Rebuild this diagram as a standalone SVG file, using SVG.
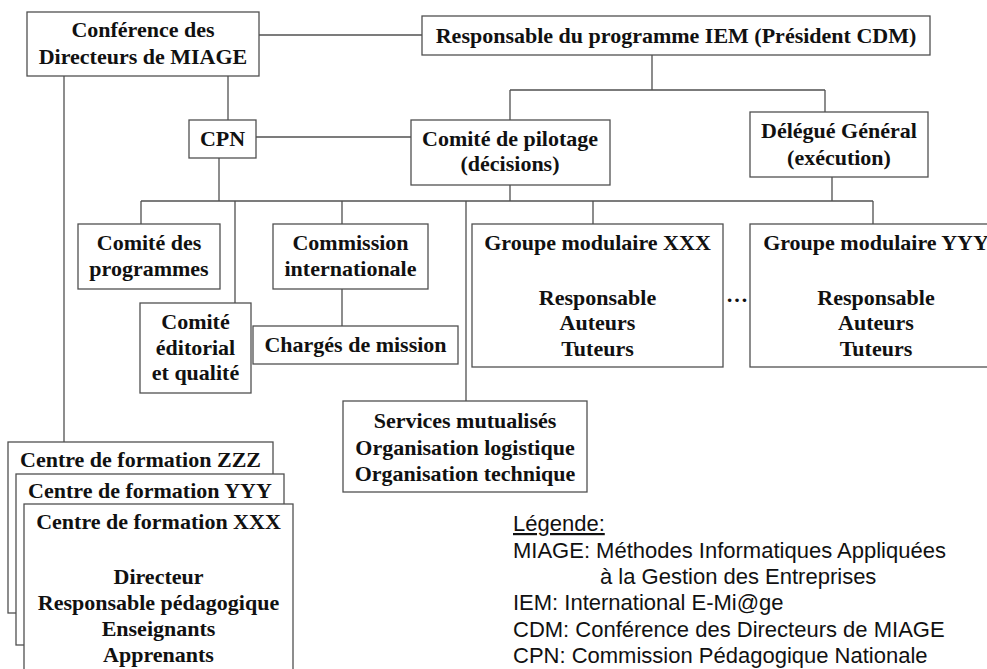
<svg xmlns="http://www.w3.org/2000/svg" width="987" height="669" viewBox="0 0 987 669">
<style>
.box{fill:#fff;stroke:#505050;stroke-width:1.3}
.t{font-family:"Liberation Serif","Times New Roman",serif;font-weight:bold;font-size:22px;fill:#111;text-anchor:middle}
.lg{font-family:"Liberation Sans",Arial,sans-serif;font-size:22px;fill:#111}
.c{fill:none;stroke:#505050;stroke-width:1.3}
</style>
<rect width="987" height="669" fill="#fff"/>
<g id="connectors" class="c">
<path d="M259,35H422"/>
<path d="M652,54V90M510,90H825M510,90V120M825,90V112"/>
<path d="M228,76V120"/>
<path d="M256,137H411"/>
<path d="M64,76V442"/>
<path d="M219,158V201"/>
<path d="M510,185V201M832,177V201"/>
<path d="M141,201H873"/>
<path d="M141,201V224M235,201V303M342,201V224M466,201V401M593,201V224M873,201V224"/>
<path d="M342,289V326"/>
</g>
<g id="cdm">
<rect class="box" x="27" y="12" width="232" height="64"/>
<text class="t" x="143" y="37">Conférence des</text>
<text class="t" x="143" y="64">Directeurs de MIAGE</text>
</g>
<g id="responsable">
<rect class="box" x="422" y="16" width="508" height="39"/>
<text class="t" x="676" y="43">Responsable du programme IEM (Président CDM)</text>
</g>
<g id="cpn">
<rect class="box" x="189" y="120" width="67" height="38"/>
<text class="t" x="222.5" y="146">CPN</text>
</g>
<g id="comite-pilotage">
<rect class="box" x="411" y="120" width="199" height="65"/>
<text class="t" x="510" y="146">Comité de pilotage</text>
<text class="t" x="510" y="171">(décisions)</text>
</g>
<g id="delegue">
<rect class="box" x="750" y="112" width="178" height="65"/>
<text class="t" x="839" y="138">Délégué Général</text>
<text class="t" x="839" y="165">(exécution)</text>
</g>
<g id="comite-programmes">
<rect class="box" x="78" y="224" width="142" height="65"/>
<text class="t" x="149" y="250">Comité des</text>
<text class="t" x="149" y="276">programmes</text>
</g>
<g id="commission">
<rect class="box" x="273" y="224" width="155" height="65"/>
<text class="t" x="350.5" y="250">Commission</text>
<text class="t" x="350.5" y="276">internationale</text>
</g>
<g id="comite-editorial">
<rect class="box" x="140" y="303" width="111" height="90"/>
<text class="t" x="195.5" y="329">Comité</text>
<text class="t" x="195.5" y="355">éditorial</text>
<text class="t" x="195.5" y="380">et qualité</text>
</g>
<g id="charges">
<rect class="box" x="253" y="326" width="205" height="38"/>
<text class="t" x="355.5" y="352">Chargés de mission</text>
</g>
<g id="services">
<rect class="box" x="343" y="401" width="244" height="91"/>
<text class="t" x="465" y="428">Services mutualisés</text>
<text class="t" x="465" y="455">Organisation logistique</text>
<text class="t" x="465" y="481">Organisation technique</text>
</g>
<g id="groupe-xxx">
<rect class="box" x="472" y="224" width="251" height="143"/>
<text class="t" x="597.5" y="250">Groupe modulaire XXX</text>
<text class="t" x="597.5" y="305">Responsable</text>
<text class="t" x="597.5" y="330">Auteurs</text>
<text class="t" x="597.5" y="356">Tuteurs</text>
</g>
<text class="t" x="737" y="302">…</text>
<g id="groupe-yyy">
<rect class="box" x="750" y="224" width="252" height="143"/>
<text class="t" x="876" y="250">Groupe modulaire YYY</text>
<text class="t" x="876" y="305">Responsable</text>
<text class="t" x="876" y="330">Auteurs</text>
<text class="t" x="876" y="356">Tuteurs</text>
</g>
<g id="centre-zzz">
<rect class="box" x="8" y="442" width="265" height="171"/>
<text class="t" x="140.5" y="467">Centre de formation ZZZ</text>
</g>
<g id="centre-yyy">
<rect class="box" x="16" y="474" width="268" height="171"/>
<text class="t" x="150" y="498">Centre de formation YYY</text>
</g>
<g id="centre-xxx">
<rect class="box" x="24" y="504" width="269" height="180"/>
<text class="t" x="158.5" y="529">Centre de formation XXX</text>
<text class="t" x="158.5" y="584">Directeur</text>
<text class="t" x="158.5" y="610">Responsable pédagogique</text>
<text class="t" x="158.5" y="636">Enseignants</text>
<text class="t" x="158.5" y="662">Apprenants</text>
</g>
<g id="legende">
<text class="lg" x="513" y="531" text-decoration="underline">Légende:</text>
<text class="lg" x="513" y="558">MIAGE: Méthodes Informatiques Appliquées</text>
<text class="lg" x="600" y="584">à la Gestion des Entreprises</text>
<text class="lg" x="513" y="610">IEM: International E-Mi@ge</text>
<text class="lg" x="513" y="637">CDM: Conférence des Directeurs de MIAGE</text>
<text class="lg" x="513" y="663">CPN: Commission Pédagogique Nationale</text>
</g>
</svg>
